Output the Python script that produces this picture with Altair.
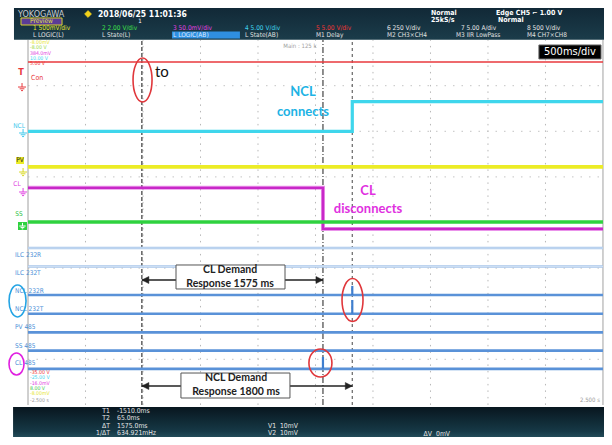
import altair as alt
import pandas as pd

# ---------------- values read from the scope screen ----------------
# horizontal: time in seconds (500 ms/div, -2.5 s .. 2.5 s); vertical: screen divisions
T_VIEW = [-2.674, 2.509]
V_VIEW = [-4.704, 4.704]

T_START, T_END = -2.5, 2.5
T1, T2, T_NCL = -1.51, 0.065, 0.32

con_t = [T_START, T_END]
con_v = [3.52, 3.52]
ncl_t = [T_START, T_NCL, T_NCL, T_END]
ncl_v = [2.0, 2.0, 2.65, 2.65]
pv_t = [T_START, T_END]
pv_v = [1.22, 1.22]
cl_t = [T_START, T2, T2, T_END]
cl_v = [0.76, 0.76, -0.14, -0.14]
ss_t = [T_START, T_END]
ss_v = [0.01, 0.01]

logic_names = ["ILC 232R", "ILC 232T", "NCL 232R", "NCL 232T", "PV 485", "SS 485", "CL 485"]
logic_levels = [-0.56, -0.965, -1.59, -2.0, -2.41, -2.81, -3.21]
logic_label_levels = [-0.713, -1.107, -1.502, -1.897, -2.292, -2.708, -3.081]

# short pulses on the serial lines: time, low, high
pulse_t = [T_NCL, T_NCL, T2]
pulse_lo = [-1.59, -2.0, -3.21]
pulse_hi = [-1.39, -1.70, -2.95]

grid_t = [-2.0, -1.5, -1.0, -0.5, 0.0, 0.5, 1.0, 1.5, 2.0]
grid_v = [-3, -2, -1, 0, 1, 2, 3]

channel_labels = ["1  500mV/div", "2  2.00 V/div", "3  50.0mV/div", "4  5.00 V/div",
                  "5  5.00 V/div", "6  250 V/div", "7  5.00 A/div", "8  500 V/div"]
channel_colors = ["#e6e62e", "#3ee04a", "#e040e0", "#40d4f0", "#f03434", "#e8e8e8", "#e8e8e8", "#e8e8e8"]
channel_t = [-2.457, -1.857, -1.239, -0.613, 0.004, 0.622, 1.265, 1.839]
logic_row_labels = ["L  LOGIC(L)", "L  State(L)", "L  LOGIC(AB)", "L  State(AB)",
                    "M1 Delay", "M2 CH3×CH4", "M3 IIR LowPass", "M4 CH7×CH8"]
logic_row_t = [-2.457, -1.857, -1.239, -0.613, 0.004, 0.622, 1.222, 1.839]

top_levels = ["-8.00mV", "-8.00 V", "384.0mV", "10.00 V", "5.00 V"]
top_level_v = [3.958, 3.849, 3.728, 3.618, 3.487]
top_level_c = ["#e6e62e", "#9ad83a", "#e040e0", "#40d4f0", "#f03434"]
bot_levels = ["-35.00 V", "-25.00 V", "-16.0mV", "8.00 V", "-8.00mV", "-2.500 s"]
bot_level_v = [-3.279, -3.388, -3.520, -3.629, -3.750, -3.893]
bot_level_c = ["#f03434", "#40d4f0", "#e040e0", "#3ec84a", "#e6e62e", "#999999"]

meas_names = ["T1", "T2", "ΔT", "1/ΔT"]
meas_vals = ["-1510.0ms", "65.0ms", "1575.0ms", "634.921mHz"]
meas_v = [-4.123, -4.287, -4.452, -4.616]
volt_names = ["V1", "V2"]
volt_vals = ["10mV", "10mV"]
volt_v = [-4.452, -4.616]

# ---------------- helpers ----------------
xs = alt.Scale(domain=T_VIEW, nice=False, zero=False)
ys = alt.Scale(domain=V_VIEW, nice=False, zero=False)
SCOPE_FONT = "DejaVu Sans Condensed, Liberation Sans Narrow, DejaVu Sans"
NOTE_FONT = "Lato, Open Sans, sans-serif"


def X(f="t"):
    return alt.X(f"{f}:Q", scale=xs, axis=None)


def Y(f="v"):
    return alt.Y(f"{f}:Q", scale=ys, axis=None)


def trace(ts, vs, color, width, dash=None, opacity=1.0):
    df = pd.DataFrame({"t": ts, "v": vs, "i": list(range(len(ts)))})
    kw = dict(color=color, strokeWidth=width, opacity=opacity, clip=False, strokeCap="butt")
    if dash:
        kw["strokeDash"] = dash
    return alt.Chart(df).mark_line(**kw).encode(x=X(), y=Y(), order="i:Q")


def vrules(ts, v0, v1, color, width, dash=None):
    df = pd.DataFrame({"t": ts, "v": [v0] * len(ts), "v2": [v1] * len(ts)})
    kw = dict(color=color, strokeWidth=width)
    if dash:
        kw["strokeDash"] = dash
    return alt.Chart(df).mark_rule(**kw).encode(x=X(), y=Y(), y2="v2:Q")


def hrules(vs, t0, t1, color, width, dash=None):
    df = pd.DataFrame({"v": vs, "t": [t0] * len(vs), "t2": [t1] * len(vs)})
    kw = dict(color=color, strokeWidth=width)
    if dash:
        kw["strokeDash"] = dash
    return alt.Chart(df).mark_rule(**kw).encode(x=X(), x2="t2:Q", y=Y())


def texts(ts, vs, labels, color, size, align="left", font=SCOPE_FONT, weight="normal", colors=None):
    df = pd.DataFrame({"t": ts, "v": vs, "s": labels})
    kw = dict(align=align, baseline="middle", fontSize=size, font=font, fontWeight=weight)
    if colors is None:
        return alt.Chart(df).mark_text(color=color, **kw).encode(x=X(), y=Y(), text="s:N")
    df["c"] = colors
    return alt.Chart(df).mark_text(**kw).encode(
        x=X(), y=Y(), text="s:N", color=alt.Color("c:N", scale=None))


def box(t0, t1, v0, v1, fill, stroke=None, sw=1.0):
    df = pd.DataFrame({"t": [t0], "t2": [t1], "v": [v0], "v2": [v1]})
    kw = dict(fill=fill)
    if stroke:
        kw["stroke"] = stroke
        kw["strokeWidth"] = sw
    return alt.Chart(df).mark_rect(**kw).encode(x=X(), x2="t2:Q", y=Y(), y2="v2:Q")


def ellipse(t, v, w, h, color, sw=1.6):
    s = float(max(w, h))
    rx, ry = w / s, h / s
    path = f"M {-rx} 0 A {rx} {ry} 0 1 0 {rx} 0 A {rx} {ry} 0 1 0 {-rx} 0 Z"
    df = pd.DataFrame({"t": [t], "v": [v]})
    return alt.Chart(df).mark_point(shape=path, size=s * s, filled=False, stroke=color,
                                    strokeWidth=sw, opacity=1).encode(x=X(), y=Y())


def symbol(ts, vs, path, size, color, filled=False, sw=1.0):
    df = pd.DataFrame({"t": ts, "v": vs})
    if filled:
        m = alt.Chart(df).mark_point(shape=path, size=size, filled=True, fill=color,
                                     stroke=color, strokeWidth=0.5, opacity=1)
    else:
        m = alt.Chart(df).mark_point(shape=path, size=size, filled=False, stroke=color,
                                     strokeWidth=sw, opacity=1)
    return m.encode(x=X(), y=Y())


def arrow(ta, tb, v):
    line = hrules([v], ta, tb, "#222222", 1.3)
    left = symbol([ta], [v], "M 0 0 L 1 -0.5 L 1 0.5 Z", 196, "#222222", filled=True)
    right = symbol([tb], [v], "M 0 0 L -1 -0.5 L -1 0.5 Z", 196, "#222222", filled=True)
    return [line, left, right]


GROUND = "M 0 -1 L 0 0 M -1 0 L 1 0 M -0.6 0.45 L 0.6 0.45 M -0.25 0.9 L 0.25 0.9"

layers = []

# header and footer bands
head_grad = alt.LinearGradient(gradient="linear", x1=0, x2=0, y1=0, y2=1,
                               stops=[alt.GradientStop(color="#0e2230", offset=0),
                                      alt.GradientStop(color="#1b3c4a", offset=1)])
foot_grad = alt.LinearGradient(gradient="linear", x1=0, x2=0, y1=0, y2=1,
                               stops=[alt.GradientStop(color="#08161f", offset=0),
                                      alt.GradientStop(color="#163946", offset=0.7),
                                      alt.GradientStop(color="#2c5b69", offset=1)])
hdf = pd.DataFrame({"t": [-2.622], "t2": [2.509], "v": [4.95], "v2": [4.01]})
layers.append(alt.Chart(hdf).mark_rect(color=head_grad).encode(x=X(), x2="t2:Q", y=Y(), y2="v2:Q"))
fdf = pd.DataFrame({"t": [-2.630], "t2": [2.526], "v": [-4.046], "v2": [-4.814]})
layers.append(alt.Chart(fdf).mark_rect(color=foot_grad).encode(x=X(), x2="t2:Q", y=Y(), y2="v2:Q"))

# grid and frame
layers.append(vrules(grid_t, -4.0, 4.0, "#b8b8b8", 1, [1.5, 5]))
layers.append(hrules(grid_v, T_START, T_END, "#c4c4c4", 1, [1.5, 7]))
layers.append(vrules([T_START], -4.0, 4.0, "#b0b0b0", 1.2))
layers.append(vrules([T_END], -4.0, 4.0, "#b0b0b0", 1.2))

# cursors
layers.append(vrules([T1], -4.0, 4.0, "#555555", 1.4, [4, 2]))
layers.append(vrules([T2], -4.0, 4.0, "#444444", 1.2, [6, 2, 1, 2]))
layers.append(vrules([T_NCL], -4.0, 4.0, "#666666", 1.2, [3, 3]))

# serial / logic lines
for name, lv in zip(logic_names, logic_levels):
    if name.startswith("ILC"):
        layers.append(hrules([lv], T_START, T_END, "#a9c6ea", 2.6))
        layers.append(hrules([lv], T_START, T_END, "#d6e4f5", 0.8))
    else:
        layers.append(hrules([lv], T_START, T_END, "#5a92d8", 2.6))
pdf = pd.DataFrame({"t": pulse_t, "v": pulse_lo, "v2": pulse_hi})
layers.append(alt.Chart(pdf).mark_rule(color="#3f7fcf", strokeWidth=2.2).encode(x=X(), y=Y(), y2="v2:Q"))

# analog traces
layers.append(trace(con_t, con_v, "#e8383c", 1.6))
layers.append(trace(ncl_t, ncl_v, "#3fd6ec", 3.2))
layers.append(trace(pv_t, pv_v, "#ecec26", 3.6))
layers.append(trace(cl_t, cl_v, "#d93ad9", 4.0, opacity=0.55))
layers.append(trace(cl_t, cl_v, "#c828c8", 2.4))
layers.append(trace(ss_t, ss_v, "#2fd23f", 3.6))

# ---------------- header texts ----------------
layers.append(texts([-2.587], [4.572], ["YOKOGAWA"], "#c8ccd0", 9))
layers.append(symbol([-1.978], [4.572], "diamond", 50, "#f2d21a", filled=True))
layers.append(texts([-1.891], [4.572], ["2018/06/25 11:01:36"], "#ffffff", 8.5, weight="bold"))
layers.append(box(-2.561, -2.204, 4.485, 4.331, "#5a3c96", "#d8d030", 1))
layers.append(texts([-2.383], [4.408], ["Preview"], "#e4e440", 6.5, align="center"))
layers.append(texts([-1.526], [4.408], ["1"], "#ffffff", 6, align="center"))
layers.append(texts([1.004, 1.004], [4.594, 4.441], ["Normal", "25kS/s"], "#ffffff", 7, weight="bold"))
layers.append(texts([1.570, 1.587], [4.594, 4.441], ["Edge CH5 ⌐ 1.00 V", "Normal"], "#ffffff", 7, weight="bold"))
layers.append(texts(channel_t, [4.265] * 8, channel_labels, None, 6.5, colors=channel_colors))
layers.append(box(-1.248, -0.657, 4.189, 4.035, "#2f8fe0"))
row_cols = ["#e0e0e0", "#e0e0e0", "#dcecff", "#e0e0e0", "#e0e0e0", "#e0e0e0", "#e0e0e0", "#e0e0e0"]
layers.append(texts(logic_row_t, [4.112] * 8, logic_row_labels, None, 6.5, colors=row_cols))

# scale box
layers.append(texts([-0.135], [3.87], ["Main : 125 k"], "#a0a0a0", 6, align="center"))
layers.append(box(1.943, 2.483, 3.893, 3.586, "#000000", "#666666", 1))
layers.append(texts([2.213], [3.739], ["500ms/div"], "#ffffff", 11, align="center"))

# level labels
layers.append(texts([-2.483] * 5, top_level_v, top_levels, None, 5.2, colors=top_level_c))
layers.append(texts([-2.483] * 6, bot_level_v, bot_levels, None, 5.2, colors=bot_level_c))
layers.append(texts([2.474], [-3.893], ["2.500 s"], "#999999", 6, align="right"))

# channel labels on the left
layers.append(texts([-2.561], [3.30], ["T"], "#e8383c", 9, align="center", weight="bold"))
layers.append(texts([-2.474], [3.169], ["Con"], "#e8383c", 7))
layers.append(texts([-2.578], [2.116], ["NCL"], "#3fc8ec", 6.5, align="center"))
layers.append(box(-2.604, -2.535, 1.436, 1.283, "#ecec26"))
layers.append(texts([-2.570], [1.36], ["PV"], "#222222", 6.5, align="center"))
layers.append(texts([-2.596], [0.844], ["CL"], "#e040e0", 6.5, align="center"))
layers.append(texts([-2.578], [0.186], ["SS"], "#2fc23f", 6.5, align="center"))
layers.append(box(-2.587, -2.509, 0.011, -0.164, "#2fd23f"))
layers.append(symbol([-2.552], [2.971], GROUND, 64, "#e8383c"))
layers.append(symbol([-2.543], [1.963], GROUND, 64, "#3fc8ec"))
layers.append(symbol([-2.543], [1.107], GROUND, 64, "#d8d820"))
layers.append(symbol([-2.543], [0.669], GROUND, 64, "#e040e0"))
layers.append(symbol([-2.548], [-0.077], GROUND, 40, "#ffffff"))
layers.append(texts([-2.613] * 7, logic_label_levels, logic_names, "#4a8fd8", 6.5))

# ---------------- annotations ----------------
layers.append(texts([-1.396], [3.30], ["to"], "#111111", 15, font=NOTE_FONT))
layers.append(texts([-0.109, -0.109], [2.862, 2.423], ["NCL", "connects"], "#20b2e4", 13,
                    align="center", font=NOTE_FONT, weight="bold"))
layers.append(texts([0.457, 0.457], [0.691, 0.296], ["CL", "disconnects"], "#e030e0", 13,
                    align="center", font=NOTE_FONT, weight="bold"))

layers += arrow(T1, T2, -1.261)
layers.append(box(-1.213, -0.265, -0.932, -1.458, "#ffffff", "#555555", 1))
layers.append(texts([-0.743, -0.743], [-1.042, -1.349], ["CL Demand", "Response  1575 ms"], "#222222",
                    10.5, align="center", font=NOTE_FONT, weight="bold"))

layers += arrow(T1, T_NCL, -3.586)
layers.append(box(-1.170, -0.222, -3.301, -3.849, "#ffffff", "#555555", 1))
layers.append(texts([-0.691, -0.691], [-3.410, -3.717], ["NCL Demand", "Response  1800 ms"], "#222222",
                    10.5, align="center", font=NOTE_FONT, weight="bold"))

layers.append(ellipse(-1.504, 3.125, 19, 44, "#e0373b"))
layers.append(ellipse(0.322, -1.70, 21, 43, "#e0373b"))
layers.append(ellipse(0.043, -3.081, 23, 28, "#e0373b"))
layers.append(ellipse(-2.591, -1.72, 17, 32, "#24a4e4"))
layers.append(ellipse(-2.600, -3.103, 15, 22, "#e020e0"))

# ---------------- footer measurements ----------------
layers.append(texts([-1.787] * 4, meas_v, meas_names, "#e6e6e6", 6.8, align="right"))
layers.append(texts([-1.726] * 4, meas_v, meas_vals, "#e6e6e6", 6.8))
layers.append(texts([-0.343] * 2, volt_v, volt_names, "#e6e6e6", 6.8, align="right"))
layers.append(texts([-0.309] * 2, volt_v, volt_vals, "#e6e6e6", 6.8))
layers.append(texts([1.013], [-4.638], ["ΔV"], "#e6e6e6", 6.8, align="right"))
layers.append(texts([1.048], [-4.638], ["0mV"], "#e6e6e6", 6.8))

chart = alt.layer(*layers).properties(
    width=596, height=429, padding=0, background="white",
    autosize=alt.AutoSizeParams(type="none"),
).configure_view(stroke=None)

chart.save("out.html", embed_options={"renderer": "svg", "actions": False})
